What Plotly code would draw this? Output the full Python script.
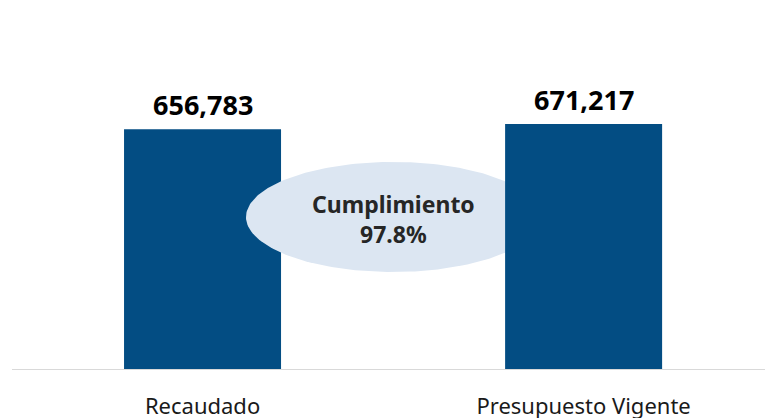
import numpy as np
import plotly.graph_objects as go

categories = ["Recaudado", "Presupuesto Vigente"]
values = [656783, 671217]
cumplimiento_label = "Cumplimiento"
cumplimiento_pct = 97.8

BAR_COLOR = "#034d83"
ELLIPSE_COLOR = "#dce6f2"
FONT = "Noto Sans"

x_pos = list(range(len(categories)))
fig = go.Figure()

# left bar (below ellipse)
fig.add_trace(go.Bar(x=[x_pos[0]], y=[values[0]], width=0.412,
                     marker=dict(color=BAR_COLOR, line=dict(width=0)),
                     zorder=0, hoverinfo="skip"))

# ellipse (decoration between the bars)
t = np.linspace(0, 2 * np.pi, 200)
cx, cy = 0.5, max(values) * 0.622
rx, ry = 0.386, max(values) * 0.2236
fig.add_trace(go.Scatter(x=cx + rx * np.cos(t), y=cy + ry * np.sin(t),
                         mode="lines", fill="toself", fillcolor=ELLIPSE_COLOR,
                         line=dict(width=0, color=ELLIPSE_COLOR),
                         zorder=1, hoverinfo="skip"))

# right bar (above ellipse)
fig.add_trace(go.Bar(x=[x_pos[1]], y=[values[1]], width=0.412,
                     marker=dict(color=BAR_COLOR, line=dict(width=0)),
                     zorder=2, hoverinfo="skip"))

for xi, v in zip(x_pos, values):
    fig.add_annotation(x=xi, y=v, text=f"<b>{v:,}</b>", showarrow=False,
                       yanchor="bottom", yshift=4,
                       font=dict(family=FONT, size=27, color="#000000"))

fig.add_annotation(x=cx, y=cy, text=f"<b>{cumplimiento_label}<br>{cumplimiento_pct:.1f}%</b>",
                   showarrow=False, xanchor="center", yanchor="middle", yshift=-2,
                   font=dict(family=FONT, size=23, color="#262626"))

fig.update_layout(
    width=765, height=418,
    margin=dict(l=12, r=0, t=20, b=48),
    paper_bgcolor="white", plot_bgcolor="white",
    showlegend=False, barmode="overlay",
    font=dict(family=FONT),
    xaxis=dict(range=[-0.5, 1.476], tickvals=x_pos, ticktext=categories,
               showgrid=False, zeroline=False, showline=False,
               ticks="outside", ticklen=17, tickcolor="rgba(0,0,0,0)",
               tickfont=dict(family=FONT, size=22, color="#1a1a1a"),
               automargin=False),
    yaxis=dict(range=[0, max(values) * 350 / 246], visible=False, showgrid=False),
    shapes=[dict(type="line", xref="paper", yref="y", x0=0, x1=1, y0=0, y1=0,
                 line=dict(color="#d9d9d9", width=2), layer="above")],
)

fig.write_html("out.html", config={"displayModeBar": False})
with open("out.html", "r", encoding="utf-8") as f:
    html = f.read()
html = html.replace("<body>", '<body style="margin:0;padding:0;overflow:hidden">', 1)
with open("out.html", "w", encoding="utf-8") as f:
    f.write(html)
